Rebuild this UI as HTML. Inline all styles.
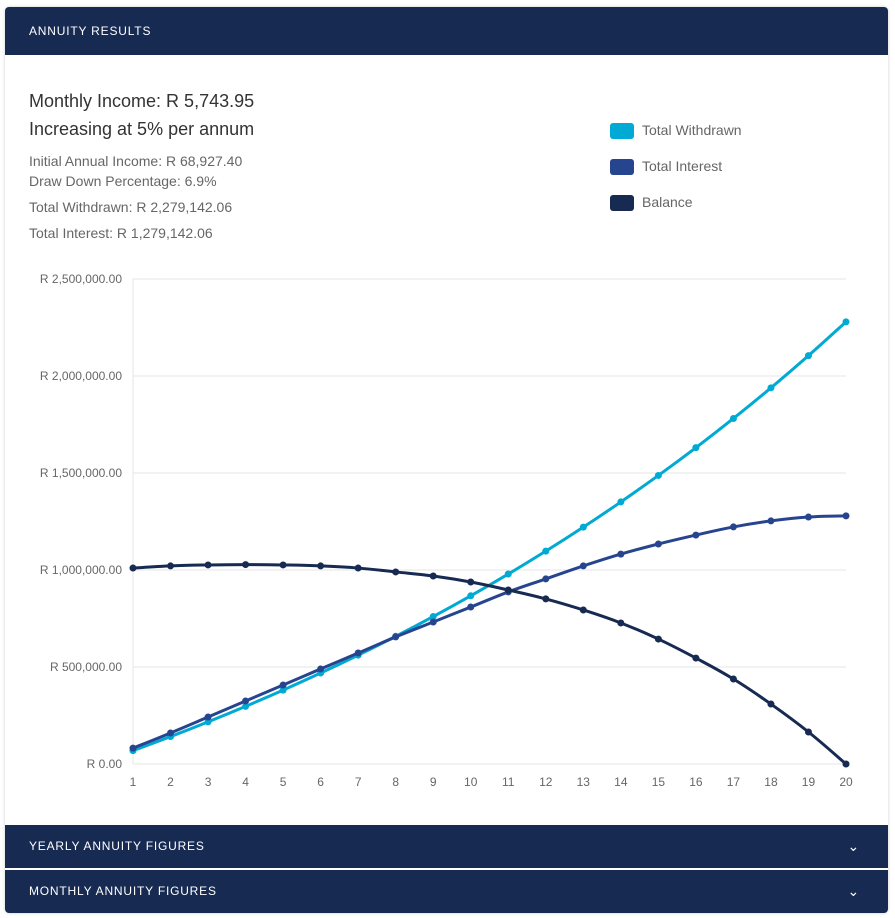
<!DOCTYPE html>
<html><head><meta charset="utf-8"><style>
body{margin:0;background:#fff;font-family:"Liberation Sans",Arial,sans-serif;width:895px;height:918px;overflow:hidden;position:relative}
.card{position:absolute;left:5px;top:7px;width:883px;height:906px;background:#fff;border-radius:4px;box-shadow:0 0 3px rgba(0,0,0,.2);overflow:hidden}
.hdr{position:absolute;left:0;width:883px;background:#172a52;color:#fff;font-size:12px;letter-spacing:.8px;box-sizing:border-box;padding-left:24px}
.t{position:absolute;left:29px;color:#555;}
.leg{position:absolute;left:610px;font-size:14px;color:#666}
.leg span{display:inline-block;width:24px;height:16px;border-radius:3px;vertical-align:middle;margin-right:8px}
</style></head><body>
<div class="card">
<div class="hdr" style="top:0;height:48px;line-height:48px">ANNUITY RESULTS</div>
<div class="hdr" style="top:818px;height:43px;line-height:43px">YEARLY ANNUITY FIGURES<span style="position:absolute;right:28px;font-size:14px">&#8964;</span></div>
<div class="hdr" style="top:863px;height:43px;line-height:43px">MONTHLY ANNUITY FIGURES<span style="position:absolute;right:28px;font-size:14px">&#8964;</span></div>
</div>
<div class="t" style="top:91px;font-size:18px;color:#333">Monthly Income: R 5,743.95</div>
<div class="t" style="top:119px;font-size:18px;color:#333">Increasing at 5% per annum</div>
<div class="t" style="top:153px;font-size:14px;color:#666">Initial Annual Income: R 68,927.40</div>
<div class="t" style="top:173px;font-size:14px;color:#666">Draw Down Percentage: 6.9%</div>
<div class="t" style="top:199px;font-size:14px;color:#666">Total Withdrawn: R 2,279,142.06</div>
<div class="t" style="top:225px;font-size:14px;color:#666">Total Interest: R 1,279,142.06</div>
<div class="leg" style="top:122px"><span style="background:#00aad4"></span>Total Withdrawn</div>
<div class="leg" style="top:158px"><span style="background:#27458f"></span>Total Interest</div>
<div class="leg" style="top:194px"><span style="background:#172a52"></span>Balance</div>
<svg id="chart" width="895" height="918" style="position:absolute;left:0;top:0"></svg>
<script>
const years=[1,2,3,4,5,6,7,8,9,10,11,12,13,14,15,16,17,18,19,20];
const withdrawn=[68927,141301,217294,297081,380860,468838,561209,658201,760040,866966,979232,1097119,1220893,1350862,1487331,1630620,1781081,1939061,2104930,2279142];
const interest=[82000,160000,242000,325000,407000,490000,572000,655000,732000,809000,887000,954000,1021000,1082000,1134000,1180000,1222000,1253000,1273000,1279142];
const balance=[1010000,1021000,1026000,1028000,1026000,1021000,1010000,990000,969000,938000,897000,851000,794000,727000,644000,546000,438000,309000,165000,0];
const yTicks=[0,500000,1000000,1500000,2000000,2500000];
const yLabels=["R 0.00","R 500,000.00","R 1,000,000.00","R 1,500,000.00","R 2,000,000.00","R 2,500,000.00"];
const svg=document.getElementById('chart');const NS='http://www.w3.org/2000/svg';
const X0=133,X1=846,Y0=764,Y1=279;
const xs=i=>X0+(X1-X0)*i/(years.length-1);
const ys=v=>Y0-(Y0-Y1)*v/2500000;
function mk(t,a){const e=document.createElementNS(NS,t);for(const k in a)e.setAttribute(k,a[k]);svg.appendChild(e);return e;}
yTicks.forEach((v,i)=>{const g=mk('line',{x1:X0,x2:X1,y1:ys(v),y2:ys(v),stroke:'#e6e6e6'});


const t=mk('text',{x:122,y:ys(v)+4,'text-anchor':'end','font-size':12,fill:'#666','font-family':'Liberation Sans, sans-serif'});t.textContent=yLabels[i];

});
const ax=mk('line',{x1:X0,x2:X0,y1:Y1,y2:Y0,stroke:'#e6e6e6'});


years.forEach((y,i)=>{const t=mk('text',{x:xs(i),y:786,'text-anchor':'middle','font-size':12,fill:'#666','font-family':'Liberation Sans, sans-serif'});t.textContent=y;

});
function series(vals,col,name){const p=vals.map((v,i)=>[xs(i),ys(v)]);let d='M'+p[0];
for(let i=0;i<p.length-1;i++){const p0=p[Math.max(0,i-1)],p1=p[i],p2=p[i+1],p3=p[Math.min(p.length-1,i+2)];const k=0.2;
d+=' C'+(p1[0]+(p2[0]-p0[0])*k)+','+(p1[1]+(p2[1]-p0[1])*k)+' '+(p2[0]-(p3[0]-p1[0])*k)+','+(p2[1]-(p3[1]-p1[1])*k)+' '+p2[0]+','+p2[1];}
const l=mk('path',{d:d,fill:'none',stroke:col,'stroke-width':3});


p.forEach(q=>{const c=mk('circle',{cx:q[0],cy:q[1],r:3.5,fill:col});

});}
series(withdrawn,'#00aad4','total-withdrawn');
series(interest,'#27458f','total-interest');
series(balance,'#172a52','balance');
</script>
</body></html>
